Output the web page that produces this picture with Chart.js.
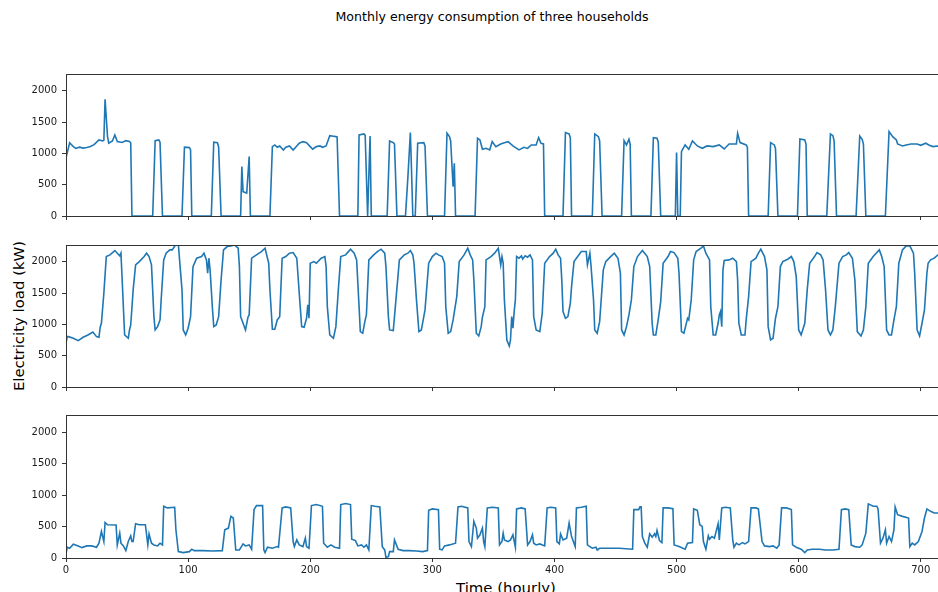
<!DOCTYPE html>
<html>
<head>
<meta charset="utf-8">
<script src="https://cdn.jsdelivr.net/npm/chart.js@4.4.1/dist/chart.umd.min.js"></script>
<style>
html, body { margin: 0; padding: 0; background: #fff; overflow: hidden; }
body { width: 938px; height: 592px; position: relative; font-family: "DejaVu Sans", sans-serif; }
canvas { position: absolute; left: 0; }
.txt { position: absolute; color: #000; white-space: nowrap; }
</style>
</head>
<body>
<div class="txt" style="left:0;width:984px;top:9px;text-align:center;font-size:12.6px;line-height:15px;">Monthly energy consumption of three households</div>
<div class="txt" style="left:19px;top:316px;font-size:14.9px;line-height:18px;transform:translate(-50%,-50%) rotate(-90deg);">Electricity load (kW)</div>
<div class="txt" style="left:506px;top:579px;font-size:14.9px;line-height:18px;transform:translateX(-50%);">Time (hourly)</div>
<canvas id="c1"></canvas>
<canvas id="c2"></canvas>
<canvas id="c3"></canvas>
<script>
// tick values
var yTicks = [0, 500, 1000, 1500, 2000];
var xTicks = [0, 100, 200, 300, 400, 500, 600, 700];

// [hour, kW]
var house1 = [[0,930],[3,1170],[6,1110],[8,1080],[11,1100],[14,1085],[17,1095],[20,1110],[23,1140],[27,1215],[30,1200],[31,1210],[32,1867],[34,1270],[35,1165],[38,1200],[40,1296],[42,1190],[46,1175],[49,1205],[52,1190],[53,1170],[54,0],
  [71,0],[73,1205],[76,1216],[77,1180],[79,0],
  [95,0],[97,1100],[101,1093],[102,1060],[103,0],
  [119,0],[121,1180],[124,1173],[125,1100],[127,0],
  [143,0],[144,790],[145,390],[148,365],[150,950],[151,0],
  [167,0],[169,1110],[171,1136],[173,1099],[175,1120],[178,1056],[180,1100],[183,1120],[186,1056],[189,1120],[191,1163],[194,1189],[197,1173],[200,1109],[202,1067],[205,1109],[208,1120],[210,1099],[213,1120],[216,1285],[219,1275],[221,1269],[222,1265],[224,0],
  [239,0],[240,1296],[244,1312],[245,1290],[247,0],[249,1280],[250,0],
  [263,0],[265,1200],[268,1173],[269,1150],[271,0],
  [278,0],[280,629],[282,1333],[283,700],[284,0],[286,0],[288,1163],[293,1173],[294,1120],[296,0],
  [310,0],[312,1323],[314,1269],[315,1200],[317,469],[318,843],[319,0],
  [335,0],[337,1243],[339,1216],[341,1067],[344,1083],[347,1056],[349,1189],[352,1109],[356,1152],[359,1170],[362,1189],[366,1120],[371,1056],[375,1099],[378,1080],[381,1136],[385,1136],[387,1253],[389,1163],[391,1152],[392,0],
  [407,0],[409,1333],[412,1312],[413,1250],[414,0],
  [431,0],[433,1312],[436,1269],[437,1200],[439,0],
  [455,0],[457,1205],[459,1136],[461,1227],[462,1150],[463,0],
  [479,0],[481,1253],[484,1243],[485,1180],[487,0],
  [499,0],[500,1013],[501,0],[503,0],[504,1029],[507,1136],[510,1067],[513,1200],[517,1120],[521,1083],[525,1120],[530,1109],[535,1136],[539,1072],[543,1152],[549,1152],[550,1323],[552,1173],[557,1136],[558,1100],[559,0],
  [575,0],[577,1173],[580,1136],[581,1080],[583,0],
  [599,0],[601,1232],[605,1216],[606,1150],[607,0],
  [623,0],[626,1312],[628,1285],[629,1200],[631,0],
  [647,0],[650,1280],[652,1227],[653,1150],[655,0],
  [671,0],[674,1349],[677,1269],[680,1216],[681,1152],[685,1120],[688,1136],[692,1152],[697,1152],[700,1130],[704,1163],[707,1130],[710,1109],[714,1120],[719,1115]];

var house2 = [[0,700],[1,805],[2,805],[6,779],[10,741],[14,795],[18,832],[22,880],[25,805],[27,795],[28,955],[29,1019],[31,1499],[33,2085],[36,2112],[40,2181],[42,2139],[44,2096],[45,2139],[46,1712],[48,832],[51,779],[52,912],[53,992],[55,1552],[57,1952],[60,2005],[64,2085],[66,2139],[68,2085],[70,1952],[72,1125],[73,912],[75,965],[77,1072],[78,1419],[80,2032],[82,2139],[85,2192],[87,2192],[90,2280],[92,2280],[93,2032],[95,1552],[96,912],[98,832],[100,939],[102,1125],[104,1925],[107,2059],[111,2085],[113,2139],[115,2032],[116,1819],[117,2059],[118,1872],[120,1232],[121,965],[123,992],[125,1125],[127,1712],[129,2192],[132,2245],[135,2256],[138,2272],[141,2219],[142,1925],[143,1125],[145,1019],[147,912],[149,1115],[150,1152],[152,2059],[156,2112],[160,2165],[163,2219],[164,2139],[166,1979],[167,1552],[169,923],[171,923],[173,1072],[175,1125],[177,2059],[180,2085],[183,2139],[186,2149],[189,2059],[191,1499],[193,965],[195,955],[197,1099],[198,1312],[199,1099],[200,1979],[203,2005],[205,1979],[209,2059],[212,2085],[213,1925],[214,1285],[216,832],[219,779],[221,965],[223,1552],[225,2085],[229,2112],[233,2203],[236,2139],[238,2032],[240,1285],[241,885],[243,859],[245,1072],[246,1152],[248,2032],[252,2112],[255,2165],[258,2203],[261,2139],[262,1925],[264,1125],[265,912],[268,901],[269,1125],[273,2032],[277,2112],[280,2139],[282,2181],[284,2112],[285,1979],[287,1392],[289,885],[291,912],[293,1125],[294,1232],[297,1979],[300,2085],[303,2139],[305,2112],[308,2085],[310,1979],[311,1285],[313,859],[315,885],[317,1072],[320,1445],[322,2005],[326,2112],[329,2219],[331,2112],[333,2032],[334,1712],[336,859],[338,816],[340,965],[341,1115],[343,1285],[344,2032],[348,2085],[351,2139],[354,2219],[355,2085],[356,1952],[357,2085],[358,1979],[359,1392],[361,752],[363,656],[364,752],[365,1125],[366,939],[367,1205],[368,1392],[369,2085],[371,2059],[373,2096],[374,2043],[376,2096],[378,2075],[380,2112],[382,2032],[383,1125],[385,912],[388,885],[390,1179],[392,1979],[396,2085],[399,2139],[401,2203],[403,2112],[405,2059],[406,1712],[407,1205],[409,1099],[411,1125],[413,1339],[414,1605],[416,2005],[419,2085],[422,2165],[426,2165],[427,1952],[429,2139],[430,1925],[432,1392],[433,912],[435,859],[437,1045],[440,1872],[442,2005],[446,2085],[449,2139],[452,2059],[454,1819],[455,912],[457,832],[459,965],[461,1152],[463,1392],[465,1925],[468,2085],[472,2181],[475,2112],[476,2085],[478,1925],[480,1019],[481,832],[483,832],[485,1083],[487,1365],[489,1979],[493,2085],[495,2165],[498,2149],[501,2059],[502,1819],[504,885],[506,859],[509,1099],[510,1072],[512,1392],[514,2032],[516,2165],[520,2219],[522,2256],[524,2139],[527,2032],[528,1285],[530,832],[532,832],[534,1019],[535,1150],[536,1205],[537,965],[538,1872],[539,2021],[543,2032],[546,2059],[549,2005],[550,1712],[551,1019],[553,832],[556,832],[557,1072],[559,1445],[561,2005],[565,2059],[567,2139],[569,2203],[572,2085],[574,1872],[575,965],[577,752],[579,779],[581,1099],[583,1285],[585,1925],[587,2005],[591,2043],[594,2085],[596,2005],[598,1765],[600,912],[602,832],[605,1019],[607,1552],[609,1979],[613,2085],[615,2149],[618,2112],[620,2032],[622,1552],[624,912],[626,832],[628,912],[630,1285],[633,1979],[636,2085],[639,2112],[641,2149],[644,2059],[646,1712],[648,885],[651,816],[653,912],[655,1285],[657,1979],[661,2085],[664,2149],[666,2192],[668,2085],[670,1925],[672,912],[674,832],[676,832],[678,1072],[680,1285],[682,1979],[685,2192],[688,2256],[691,2256],[694,2139],[695,1819],[697,912],[699,816],[701,1019],[703,1232],[705,1819],[706,1979],[708,2032],[711,2059],[714,2112],[719,2130]];

var house3 = [[0,60],[1,171],[3,155],[6,219],[10,192],[13,165],[17,192],[21,192],[25,171],[27,235],[29,421],[31,261],[32,565],[34,528],[41,523],[42,208],[44,395],[45,235],[47,192],[49,117],[51,261],[53,352],[54,261],[55,261],[57,544],[60,528],[65,528],[67,208],[68,384],[70,235],[72,208],[75,192],[77,235],[79,208],[80,821],[83,795],[89,805],[90,448],[92,101],[96,85],[101,101],[103,139],[105,117],[112,117],[120,112],[128,117],[130,448],[133,475],[135,661],[137,635],[139,128],[142,128],[145,224],[147,192],[150,208],[152,139],[154,768],[156,832],[161,832],[162,128],[163,85],[165,171],[169,155],[173,181],[174,171],[177,795],[180,811],[184,795],[186,261],[187,181],[189,288],[191,208],[194,181],[196,315],[197,181],[199,155],[201,832],[205,848],[210,821],[211,235],[214,171],[217,208],[220,171],[224,155],[225,848],[229,864],[233,848],[234,299],[237,277],[239,192],[242,208],[244,171],[246,208],[248,128],[250,832],[253,821],[257,811],[259,181],[261,128],[262,11],[264,21],[265,101],[268,101],[269,288],[272,139],[276,117],[281,117],[287,112],[292,101],[296,117],[297,757],[300,779],[305,768],[306,139],[308,128],[310,192],[314,208],[319,235],[321,811],[324,821],[329,795],[330,261],[332,181],[334,581],[336,475],[337,315],[339,368],[341,475],[342,261],[343,181],[345,795],[349,805],[354,795],[355,208],[357,261],[358,395],[359,288],[362,261],[364,288],[366,368],[368,171],[369,779],[373,795],[376,779],[378,208],[380,261],[382,368],[383,235],[385,208],[388,224],[392,192],[394,795],[397,805],[401,795],[402,261],[404,224],[405,384],[407,288],[410,315],[412,555],[414,341],[416,235],[417,181],[418,795],[422,805],[426,821],[427,208],[429,181],[431,155],[434,171],[435,128],[437,155],[445,155],[453,155],[464,139],[465,768],[469,768],[470,811],[471,811],[472,341],[474,235],[476,171],[478,384],[480,331],[482,384],[483,341],[484,437],[486,277],[488,245],[489,795],[493,795],[497,784],[498,208],[502,181],[507,139],[509,235],[513,245],[514,779],[517,757],[519,528],[521,501],[522,261],[524,139],[526,352],[527,299],[529,341],[531,315],[534,544],[535,288],[537,795],[540,805],[544,795],[546,288],[547,171],[549,235],[551,208],[554,245],[556,224],[559,261],[561,795],[565,795],[567,779],[570,261],[572,192],[576,181],[579,192],[582,155],[584,208],[586,795],[590,795],[594,768],[595,208],[598,171],[602,139],[605,85],[607,128],[611,139],[617,139],[622,128],[628,128],[633,139],[635,768],[638,779],[641,768],[643,208],[646,181],[650,171],[652,208],[655,395],[657,859],[661,821],[664,821],[665,779],[667,235],[669,315],[671,448],[672,235],[674,341],[676,261],[678,448],[679,811],[681,688],[685,661],[690,635],[691,181],[693,235],[695,208],[698,261],[701,421],[703,635],[705,779],[708,741],[711,715],[714,715],[719,700]];

var PAD_TOP = 20, X_AXIS_H = 30, CANVAS_W = 960, AXIS_W = 66, RIGHT = 944;

var panels = [
  { id: 'c1', data: house1, top: 74, h: 142, labels: false },
  { id: 'c2', data: house2, top: 245, h: 142, labels: false },
  { id: 'c3', data: house3, top: 415, h: 143, labels: true }
];

// box around each axes, like matplotlib spines
var frame = {
  id: 'frame',
  afterDatasetsDraw: function (chart) {
    var a = chart.chartArea, ctx = chart.ctx;
    ctx.save();
    ctx.strokeStyle = '#333';
    ctx.lineWidth = 1;
    ctx.strokeRect(Math.round(a.left) + 0.5, Math.round(a.top) + 0.5, Math.round(a.right - a.left), Math.round(a.bottom - a.top));
    ctx.restore();
  }
};

var tickFont = { family: 'DejaVu Sans', size: 10 };

panels.forEach(function (p) {
  var cv = document.getElementById(p.id);
  var hgt = PAD_TOP + p.h + X_AXIS_H;
  cv.width = CANVAS_W; cv.height = hgt;
  cv.style.width = CANVAS_W + 'px'; cv.style.height = hgt + 'px';
  cv.style.top = (p.top - PAD_TOP) + 'px';

  new Chart(cv.getContext('2d'), {
    type: 'line',
    data: {
      datasets: [{
        data: p.data.map(function (d) { return { x: d[0], y: d[1] }; }),
        borderColor: '#1f77b4',
        borderWidth: 1.6,
        pointRadius: 0,
        tension: 0,
        fill: false
      }]
    },
    options: {
      responsive: false,
      animation: false,
      devicePixelRatio: 1,
      layout: { padding: { top: PAD_TOP, left: 0, right: CANVAS_W - RIGHT, bottom: 0 } },
      plugins: { legend: { display: false }, tooltip: { enabled: false } },
      scales: {
        x: {
          type: 'linear', min: 0, max: 719,
          afterBuildTicks: function (s) { s.ticks = xTicks.map(function (v) { return { value: v }; }); },
          afterFit: function (s) { s.height = X_AXIS_H; },
          grid: { drawOnChartArea: false, drawTicks: true, tickLength: 4, tickColor: '#333', tickWidth: 1 },
          border: { display: false },
          ticks: {
            padding: 2, color: '#1a1a1a', font: tickFont, maxRotation: 0, autoSkip: false,
            callback: function (v) { return p.labels ? String(v) : ''; }
          }
        },
        y: {
          min: 0, max: 2270,
          afterBuildTicks: function (s) { s.ticks = yTicks.map(function (v) { return { value: v }; }); },
          afterFit: function (s) { s.width = AXIS_W; },
          grid: { drawOnChartArea: false, drawTicks: true, tickLength: 4, tickColor: '#333', tickWidth: 1 },
          border: { display: false },
          ticks: {
            padding: 5, color: '#1a1a1a', font: tickFont,
            callback: function (v) { return String(v); }
          }
        }
      }
    },
    plugins: [frame]
  });
});
</script>
</body>
</html>
